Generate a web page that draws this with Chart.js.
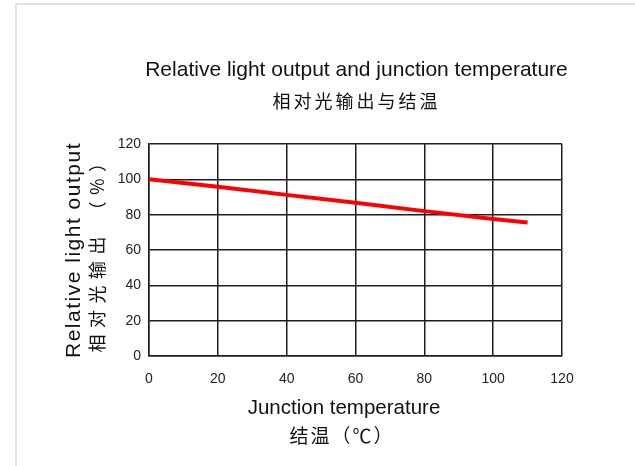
<!DOCTYPE html>
<html>
<head>
<meta charset="utf-8">
<script src="https://cdn.jsdelivr.net/npm/chart.js@4"></script>
<style>
  html, body { margin: 0; padding: 0; background: #fff; }
  #moldura {
    position: absolute; left: 15px; top: 3px; width: 620px; height: 463px;
    border-top: 2px solid #e2e2e2; border-left: 2px solid #e2e2e2;
    box-sizing: border-box;
  }
  #grafico { position: absolute; left: 0; top: 0; }
</style>
</head>
<body>
<div id="moldura"></div>
<canvas id="grafico" width="635" height="466"></canvas>
<script>
// Dados (temperatura de junção x saída de luz relativa)
const temperaturas = [0, 20, 40, 60, 80, 100, 110];
const saidaRelativa = [100, 95.8, 91.2, 86.8, 82, 77.6, 75.6];
const ticksX = [0, 20, 40, 60, 80, 100, 120];
const ticksY = [0, 20, 40, 60, 80, 100, 120];

// Textos do gráfico
const tituloLinhas = ['Relative light output and junction temperature', '相对光输出与结温'];
const tituloX = ['Junction temperature', '结温（℃）'];
const tituloY = ['Relative light output', '相对光输出 （%）'];

const fonteLatina = '"Liberation Sans", Arial, sans-serif';
const fonteCJK = '"Noto Sans CJK SC", "Liberation Sans", sans-serif';

// Plugin simples para desenhar os títulos centralizados na área do gráfico
const titulosPlugin = {
    id: 'titulos',
    afterDraw(chart) {
        const ctx = chart.ctx;
        const area = chart.chartArea;
        const cx = (area.left + area.right) / 2;
        const cy = (area.top + area.bottom) / 2;
        ctx.save();
        ctx.fillStyle = '#111';
        ctx.textAlign = 'center';
        ctx.textBaseline = 'middle';

        // Título principal
        ctx.font = '21px ' + fonteLatina;
        ctx.fillText(tituloLinhas[0], cx + 1, 70);
        ctx.font = '18px ' + fonteCJK;
        ctx.letterSpacing = '3px';
        ctx.fillText(tituloLinhas[1], cx + 1, 101);

        // Título do eixo X
        ctx.letterSpacing = '0px';
        ctx.font = '20.5px ' + fonteLatina;
        ctx.fillText(tituloX[0], 344, 408);
        ctx.font = '19px ' + fonteCJK;
        ctx.letterSpacing = '2px';
        ctx.fillText(tituloX[1], 342, 436);

        // Título do eixo Y (rotacionado)
        ctx.translate(74, cy);
        ctx.rotate(-Math.PI / 2);
        ctx.font = '21px ' + fonteLatina;
        ctx.letterSpacing = '1.5px';
        ctx.fillText(tituloY[0], 0, 0);
        ctx.font = '18px ' + fonteCJK;
        ctx.letterSpacing = '6.5px';
        ctx.fillText(tituloY[1], 0, 23);
        ctx.restore();
    }
};

const ctx = document.getElementById('grafico').getContext('2d');

const meuGrafico = new Chart(ctx, {
    type: 'line',
    data: {
        datasets: [
            {
                label: 'Saída de luz relativa',
                data: temperaturas.map((t, i) => ({ x: t, y: saidaRelativa[i] })),
                borderColor: 'rgb(255, 0, 0)',
                borderWidth: 4,
                pointRadius: 0,
                fill: false,
                tension: 0
            }
        ]
    },
    options: {
        responsive: false,
        animation: false,
        devicePixelRatio: 1,
        layout: {
            padding: { left: 109, right: 73, top: 144, bottom: 0 }
        },
        plugins: {
            legend: { display: false },
            title: { display: false },
            tooltip: { enabled: false }
        },
        scales: {
            x: {
                type: 'linear',
                min: 0,
                max: 120,
                afterBuildTicks: (scale) => { scale.ticks = ticksX.map(v => ({ value: v })); },
                grid: { color: '#1e1e1e', lineWidth: 1.5, drawTicks: false },
                border: { color: '#1e1e1e', width: 1.5 },
                ticks: {
                    padding: 15,
                    color: '#222',
                    font: { family: fonteLatina, size: 14 }
                },
                afterFit: (scale) => { scale.height = 110; }
            },
            y: {
                min: 0,
                max: 120,
                afterBuildTicks: (scale) => { scale.ticks = ticksY.map(v => ({ value: v })); },
                grid: { color: '#1e1e1e', lineWidth: 1.5, drawTicks: false },
                border: { color: '#1e1e1e', width: 1.5 },
                ticks: {
                    padding: 8,
                    color: '#222',
                    font: { family: fonteLatina, size: 14 }
                },
                afterFit: (scale) => { scale.width = 40; }
            }
        }
    },
    plugins: [titulosPlugin]
});
</script>
</body>
</html>
